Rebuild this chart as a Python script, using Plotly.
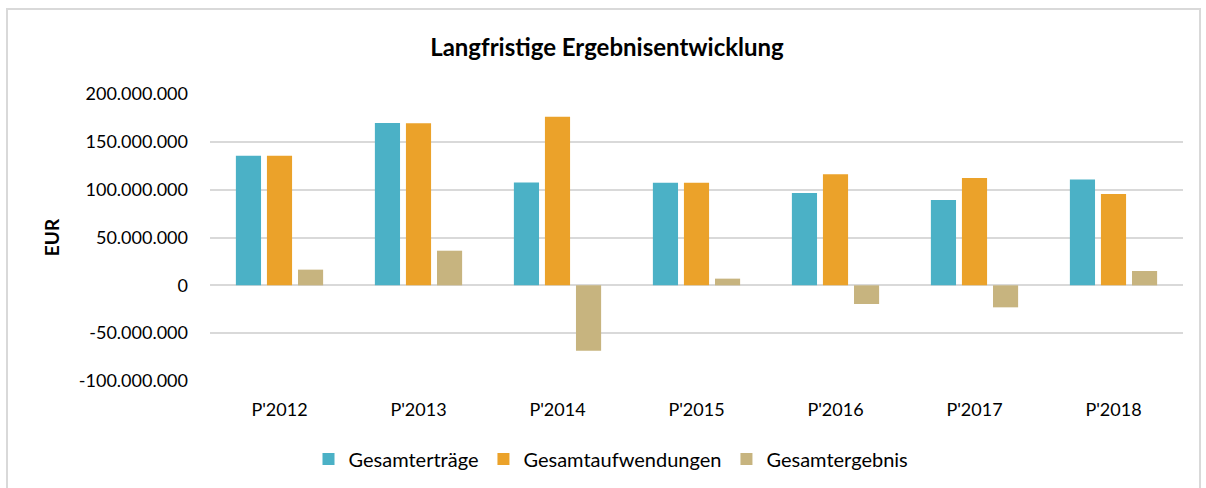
import plotly.graph_objects as go

categories = ["P'2012", "P'2013", "P'2014", "P'2015", "P'2016", "P'2017", "P'2018"]
ertraege = [135.5e6, 169.7e6, 107.6e6, 107.3e6, 96.5e6, 89.2e6, 110.5e6]
aufwendungen = [135.5e6, 169.5e6, 176.3e6, 107.3e6, 116.0e6, 112.2e6, 95.5e6]
ergebnis = [16.4e6, 36.2e6, -68.5e6, 7.0e6, -19.5e6, -23.0e6, 15.0e6]
series_names = ["Gesamterträge", "Gesamtaufwendungen", "Gesamtergebnis"]
colors = ["#4BB1C6", "#EBA22A", "#C7B47F"]
tick_vals = [-100e6, -50e6, 0, 50e6, 100e6, 150e6, 200e6]
tick_text = ["-100.000.000", "-50.000.000", "0", "50.000.000", "100.000.000", "150.000.000", "200.000.000"]

FONT = "Lato"
fig = go.Figure()
for name, vals, c in zip(series_names, [ertraege, aufwendungen, ergebnis], colors):
    fig.add_trace(go.Bar(x=categories, y=vals, name=name, marker=dict(color=c, line=dict(width=0))))

L, R, T, B = 210, 23, 94, 107
W, H = 1206, 488
pw, ph = W - L - R, H - T - B

def px(x):
    return (x - L) / pw

def py(y):
    return (H - B - y) / ph

fig.update_layout(
    width=W, height=H,
    margin=dict(l=L, r=R, t=T, b=B, autoexpand=False),
    paper_bgcolor="white", plot_bgcolor="white",
    barmode="group", bargap=0.33, bargroupgap=0.19,
    font=dict(family=FONT, size=18, color="#000000"),
    title=dict(text="<b>Langfristige Ergebnisentwicklung</b>", x=607 / W, xanchor="center",
               y=1 - 48 / H, yanchor="middle", font=dict(family=FONT, size=24, color="#000000")),
    showlegend=True,
    legend=dict(orientation="h", x=px(611), xanchor="center", y=py(459), yanchor="middle",
                font=dict(family=FONT, size=20, color="#000000"),
                traceorder="normal"),
    xaxis=dict(showgrid=False, showline=False, zeroline=False, ticks="",
               tickfont=dict(family=FONT, size=18, color="#000000"), ticklabelstandoff=16),
    yaxis=dict(range=[-100e6, 200e6], tickvals=tick_vals, ticktext=tick_text,
               showgrid=True, gridcolor="#D9D9D9", gridwidth=1.5,
               zeroline=True, zerolinecolor="#D9D9D9", zerolinewidth=1.5,
               showline=False, ticks="", ticklabelstandoff=21,
               tickfont=dict(family=FONT, size=18, color="#000000"),
               title=dict(text="<b>EUR</b>", font=dict(family=FONT, size=19, color="#000000"), standoff=14)),
    shapes=[dict(type="rect", xref="paper", yref="paper",
                 x0=px(7), x1=px(1200), y0=py(495), y1=py(9),
                 line=dict(color="#D9D9D9", width=2), fillcolor="rgba(0,0,0,0)", layer="below")],
)

fig.write_html("out.html", config={"displayModeBar": False},
               post_script="document.body.style.margin='0';document.body.style.overflow='hidden';")
